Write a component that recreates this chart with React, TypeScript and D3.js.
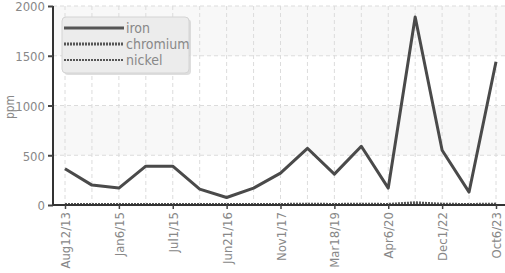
import React, { useEffect, useRef } from "react";
import * as d3 from "d3";

const dates = [
  "Aug12/13", "Mar3/14", "Jan6/15", "Apr2/15", "Jul1/15", "Jan5/16", "Jun21/16", "Feb2/17",
  "Nov1/17", "Jul9/18", "Mar18/19", "Oct2/19", "Apr6/20", "Jun1/21", "Dec1/22", "Apr4/23", "Oct6/23",
];
const iron = [365, 200, 170, 390, 390, 160, 75, 170, 320, 570, 310, 590, 170, 1890, 550, 130, 1440];
const chromium = [6, 5, 5, 6, 6, 5, 4, 5, 6, 7, 6, 7, 6, 22, 8, 5, 9];
const nickel = [3, 2, 2, 3, 3, 2, 2, 2, 3, 3, 3, 3, 3, 10, 4, 2, 4];
const yTicks = [0, 500, 1000, 1500, 2000];

const FONT = "'DejaVu Sans Condensed', 'DejaVu Sans', sans-serif";

export default function App() {
  const ref = useRef<SVGSVGElement>(null);

  useEffect(() => {
    const width = 505;
    const height = 273;
    const left = 53;
    const right = 512;
    const top = 6;
    const bottom = 205;

    const svg = d3.select(ref.current);
    svg.selectAll("*").remove();
    svg.attr("width", width).attr("height", height);

    const x = d3.scalePoint<string>().domain(dates).range([65, 496]);
    const y = d3.scaleLinear().domain([0, 2000]).range([bottom, top]);

    const styleText = (sel: any, size: number) =>
      sel
        .attr("fill", "#888")
        .style("font-family", FONT)
        .style("font-stretch", "condensed")
        .style("font-size", size + "px");

    // alternating bands
    for (let i = 0; i < yTicks.length - 1; i++) {
      svg
        .append("rect")
        .attr("x", left)
        .attr("y", y(yTicks[i + 1]))
        .attr("width", right - left)
        .attr("height", y(yTicks[i]) - y(yTicks[i + 1]))
        .attr("fill", i % 2 === 1 ? "#f8f8f8" : "#ffffff");
    }

    // grid
    svg
      .selectAll(".hgrid")
      .data(yTicks.slice(1))
      .enter()
      .append("line")
      .attr("x1", left)
      .attr("x2", right)
      .attr("y1", (d) => y(d))
      .attr("y2", (d) => y(d))
      .attr("stroke", "#dcdcdc")
      .attr("stroke-dasharray", "4,3");
    svg
      .selectAll(".vgrid")
      .data(dates)
      .enter()
      .append("line")
      .attr("x1", (d) => x(d)!)
      .attr("x2", (d) => x(d)!)
      .attr("y1", top)
      .attr("y2", bottom)
      .attr("stroke", "#dcdcdc")
      .attr("stroke-dasharray", "4,3");

    const line = d3
      .line<number>()
      .x((_, i) => x(dates[i])!)
      .y((d) => y(d));

    svg.append("path").attr("d", line(nickel)).attr("fill", "none")
      .attr("stroke", "#555").attr("stroke-width", 2).attr("stroke-dasharray", "2,1");
    svg.append("path").attr("d", line(chromium)).attr("fill", "none")
      .attr("stroke", "#555").attr("stroke-width", 3).attr("stroke-dasharray", "2,1");
    svg.append("path").attr("d", line(iron)).attr("fill", "none")
      .attr("stroke", "#4a4a4a").attr("stroke-width", 3).attr("stroke-linejoin", "round");

    // axes
    const yAxis = svg.append("g").attr("transform", `translate(${left},0)`)
      .call(d3.axisLeft(y).tickValues(yTicks).tickFormat(d3.format("d")).tickSize(5).tickPadding(3));
    yAxis.select(".domain").attr("stroke", "#333").attr("stroke-width", 2).attr("d", `M0,${top}V${bottom}`);
    yAxis.selectAll(".tick line").attr("stroke", "#444").attr("stroke-width", 2);
    styleText(yAxis.selectAll("text"), 13).attr("dy", "0.38em");

    const xAxis = svg.append("g").attr("transform", `translate(0,${bottom})`)
      .call(d3.axisBottom(x).tickValues(dates.filter((_, i) => i % 2 === 0)).tickSize(4));
    xAxis.select(".domain").attr("stroke", "#333").attr("stroke-width", 2).attr("d", `M${left},0H${right}`);
    xAxis.selectAll(".tick line").attr("stroke", "#444").attr("stroke-width", 1.5);
    styleText(xAxis.selectAll("text"), 13)
      .attr("transform", "rotate(-90)")
      .attr("text-anchor", "end")
      .attr("x", -7)
      .attr("y", 0)
      .attr("dy", "0.35em");

    styleText(
      svg.append("text")
        .attr("transform", `translate(14,107) rotate(-90)`)
        .attr("text-anchor", "middle"),
      12
    ).text("ppm");

    // legend
    const lg = svg.append("g");
    lg.append("rect").attr("x", 64).attr("y", 19).attr("width", 127).attr("height", 56)
      .attr("rx", 4).attr("fill", "#c8c8c8").attr("opacity", 0.6);
    lg.append("rect").attr("x", 62).attr("y", 17).attr("width", 127).attr("height", 56)
      .attr("rx", 4).attr("fill", "#ececec").attr("stroke", "#d4d4d4");
    const entries = [
      { name: "iron", w: 3, dash: null },
      { name: "chromium", w: 3, dash: "2,1" },
      { name: "nickel", w: 2, dash: "2,1" },
    ];
    entries.forEach((e, i) => {
      const yy = 28 + i * 16;
      lg.append("line").attr("x1", 64).attr("x2", 124).attr("y1", yy).attr("y2", yy)
        .attr("stroke", "#555").attr("stroke-width", e.w).attr("stroke-dasharray", e.dash);
      styleText(lg.append("text").attr("x", 126).attr("y", yy).attr("dy", "0.35em"), 14).text(e.name);
    });
  }, []);

  return <svg ref={ref} style={{ position: "absolute", left: 0, top: 0 }}></svg>;
}
